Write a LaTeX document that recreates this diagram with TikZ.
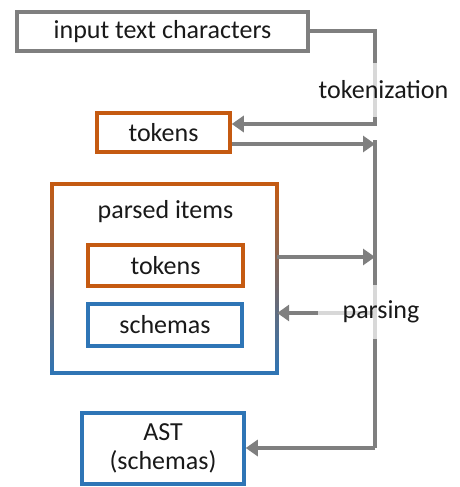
\documentclass[tikz,border=0pt]{standalone}
\usepackage{fontspec}
\setmainfont{Carlito}
\usetikzlibrary{arrows.meta}
\definecolor{cgray}{HTML}{7F7F7F}
\definecolor{corange}{HTML}{C55A11}
\definecolor{cblue}{HTML}{2E75B6}
\definecolor{cmid}{HTML}{9A6888}
\begin{document}
\begin{tikzpicture}[x=1pt,y=-1pt,
  every node/.style={font=\fontsize{26pt}{29pt}\selectfont, text=black!90},
  box/.style={draw, line width=3.5pt, rectangle, inner sep=0pt},
  graybox/.style={box, draw=cgray},
  orangebox/.style={box, draw=corange},
  bluebox/.style={box, draw=cblue},
  conn/.style={draw=cgray, line width=4pt},
  arr/.style={conn, -{Triangle[length=12pt,width=16pt]}},
  lbl/.style={fill=white, fill opacity=0.7, text opacity=1, inner xsep=25pt, minimum height=54pt}
]
\useasboundingbox (0,0) rectangle (460,487);
% nodes
\node[graybox, minimum width=291pt, minimum height=39pt] (input) at (162.5,31.5) {input text characters};
\node[orangebox, minimum width=133pt, minimum height=39pt] (tok1) at (163.5,132.5) {tokens};
\node[rectangle, minimum width=225pt, minimum height=189pt, inner sep=0pt] (parsed) at (164.5,278.5) {};
\shade[top color=corange, middle color=cmid, bottom color=cblue]
  ([xshift=-1.75pt,yshift=1.75pt]parsed.north west) rectangle ([xshift=1.75pt,yshift=-1.75pt]parsed.south east);
\fill[white]
  ([xshift=1.75pt,yshift=-1.75pt]parsed.north west) rectangle ([xshift=-1.75pt,yshift=1.75pt]parsed.south east);
\node (ptitle) at (165.5,212) {parsed items};
\node[orangebox, minimum width=155pt, minimum height=41pt] (ptok) at (165.5,265.5) {tokens};
\node[bluebox, minimum width=154pt, minimum height=42pt] (schemas) at (165,325) {schemas};
\node[bluebox, minimum width=162pt, minimum height=71pt, align=center] (ast) at (163,448.5) {AST\\(schemas)};
% bus coordinates
\coordinate (t1) at (375,124);
\coordinate (b1) at (375,144);
\coordinate (btop) at (375,140);
\coordinate (b2) at (375,257);
\coordinate (b3) at (375,313);
\coordinate (bbot) at (375,448);
% connectors
\draw[arr] (input.east) -| (t1) -- (tok1.east |- t1);
\draw[arr] (tok1.east |- b1) -- (b1);
\draw[conn] (btop) -- (bbot);
\draw[arr] (bbot) -- (ast.east |- bbot);
\draw[arr] (parsed.east |- b2) -- (b2);
\draw[arr] (b3) -- (parsed.east |- b3);
% labels
\node[lbl] (ltok) at (383.5,90) {tokenization};
\node[lbl] (lpar) at (381,311.5) {parsing};
\end{tikzpicture}
\end{document}
